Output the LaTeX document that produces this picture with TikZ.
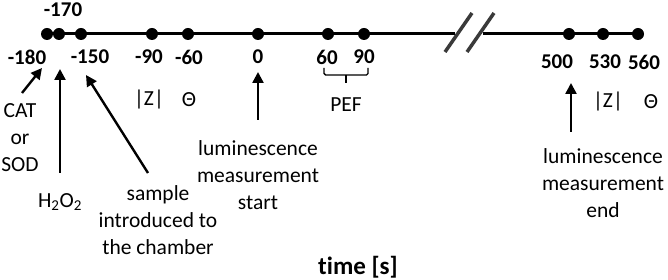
\documentclass[tikz,border=0pt]{standalone}
\usepackage{fontspec}
\setmainfont{Carlito}[Ligatures=NoCommon]
\usetikzlibrary{arrows.meta,positioning,calc}
\definecolor{ink}{HTML}{000000}
\definecolor{slashgray}{HTML}{3A3A3A}
\tikzset{
  tick/.style={circle,fill=ink,inner sep=0pt,minimum size=12pt},
  num/.style={font=\fontsize{21}{26}\selectfont\bfseries,text=ink,inner sep=1pt},
  txt/.style={font=\fontsize{21.5}{27}\selectfont,text=ink,align=center,inner sep=1pt},
  arrow/.style={-{Triangle[length=11pt,width=11pt]},line width=2.4pt,ink},
  axisline/.style={line width=3pt,ink},
  breakmark/.style={line width=3.5pt,slashgray},
  pefbrace/.style={line width=1.4pt,ink,rounded corners=1.5pt}
}
\begin{document}
\begin{tikzpicture}[x=1pt,y=1pt]
    \useasboundingbox (0,0) rectangle (668,280);
    % time axis
    \coordinate (brkL) at (455,246);
    \coordinate (brkR) at (483,246);
    \draw[axisline] (47,246) -- (brkL);
    \draw[axisline] (brkR) -- (638,246);
    \draw[breakmark] (445,228) -- (472,267);
    \draw[breakmark] (467,228) -- (494,267);
    \node[tick] (d180) at (47,246) {};
    \node[tick] (d170) at (59,246) {};
    \node[tick] (d150) at (81,246) {};
    \node[tick] (d90m) at (152,246) {};
    \node[tick] (d60m) at (188,246) {};
    \node[tick] (d0) at (258,246) {};
    \node[tick] (d60) at (328,246) {};
    \node[tick] (d90) at (364,246) {};
    \node[tick] (d500) at (569,246) {};
    \node[tick] (d530) at (603,246) {};
    \node[tick] (d560) at (638,246) {};
    % times
    \node[num] (l180) at (27,223) {-180};
    \node[num] (l170) at (63,270) {-170};
    \node[num] (l150) at (90,223) {-150};
    \node[num] (l90m) at (149,223) {-90};
    \node[num] (l60m) at (189,223) {-60};
    \node[num] (l0) at (258,223) {0};
    \node[num] (l60) at (327,223) {60};
    \node[num] (l90) at (364,223) {90};
    \node[num] (l500) at (557,218) {500};
    \node[num] (l530) at (605,218) {530};
    \node[num] (l560) at (644,218) {560};
    % events
    \node[txt] (zl) at (149,180) {|Z|};
    \node[txt] (thl) at (189,180) {Θ};
    \node[txt] (zr) at (608,178) {|Z|};
    \node[txt] (thr) at (651,178) {Θ};
    \coordinate (pefL) at (324,212);
    \coordinate (pefR) at (368,212);
    \coordinate (pefM) at (346,205);
    \draw[pefbrace] (pefL) |- (pefM) -| (pefR);
    \draw[pefbrace] (pefM) -- ++(0,-8);
    \node[txt] (pef) at (346,175) {PEF};
    \node[txt] (catsod) at (20,142) {CAT\\or\\SOD};
    \node[txt] (h2o2) at (60,78) {H\textsubscript{2}O\textsubscript{2}};
    \node[txt] (sample) at (158,60) {sample\\introduced to\\the chamber};
    \node[txt] (lumstart) at (258,105) {luminescence\\measurement\\start};
    \node[txt] (lumend) at (603,97) {luminescence\\measurement\\end};
    \node[font=\fontsize{25}{30}\selectfont\bfseries,text=ink] (taxis) at (358,13) {time [s]};
    % arrows
    \coordinate (catTail) at (22,187);
    \coordinate (catTip) at (42,212);
    \coordinate (h2Tail) at (60,107);
    \coordinate (h2Tip) at (60,211);
    \coordinate (smpTail) at (148,107);
    \coordinate (smpTip) at (86,205);
    \coordinate (stTail) at (258,160);
    \coordinate (stTip) at (258,208);
    \coordinate (enTail) at (571,148);
    \coordinate (enTip) at (571,197);
    \draw[arrow] (catTail) -- (catTip);
    \draw[arrow] (h2Tail) -- (h2Tip);
    \draw[arrow] (smpTail) -- (smpTip);
    \draw[arrow] (stTail) -- (stTip);
    \draw[arrow] (enTail) -- (enTip);
\end{tikzpicture}
\end{document}
